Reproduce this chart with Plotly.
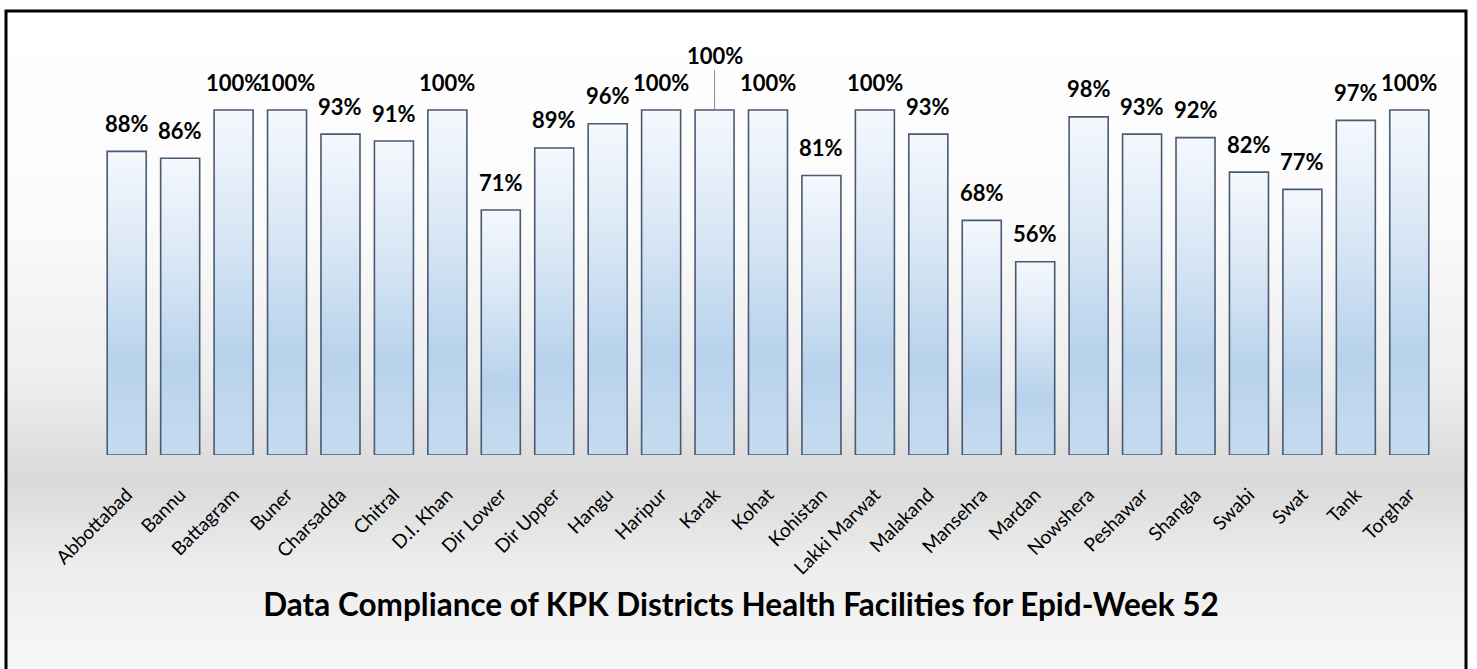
import plotly.graph_objects as go
import urllib.parse

districts = ["Abbottabad", "Bannu", "Battagram", "Buner", "Charsadda", "Chitral",
             "D.I. Khan", "Dir Lower", "Dir Upper", "Hangu", "Haripur", "Karak",
             "Kohat", "Kohistan", "Lakki Marwat", "Malakand", "Mansehra", "Mardan",
             "Nowshera", "Peshawar", "Shangla", "Swabi", "Swat", "Tank", "Torghar"]
compliance = [88, 86, 100, 100, 93, 91, 100, 71, 89, 96, 100, 100, 100, 81, 100,
              93, 68, 56, 98, 93, 92, 82, 77, 97, 100]
title_text = "Data Compliance of KPK Districts Health Facilities for Epid-Week 52"

W, H = 1477, 669
ML, MR, MT, MB = 100, 41, 41, 214
pw, ph = W - ML - MR, H - MT - MB

FONT = "Lato"

fig = go.Figure()
fig.add_trace(go.Bar(
    x=districts, y=compliance,
    marker=dict(color="#cfe0f2", line=dict(color="#4a5a70", width=1.6)),
    width=0.73, hoverinfo="x+y",
))

annotations = []
for d, v in zip(districts, compliance):
    if d == "Karak":
        annotations.append(dict(x=d, y=v, text=f"{v}%", showarrow=True,
                                arrowhead=0, arrowwidth=1, arrowcolor="#8c8c8c",
                                ax=0, ay=-55, standoff=0,
                                font=dict(family=FONT, size=22, color="black", weight="bold")))
    else:
        annotations.append(dict(x=d, y=v, text=f"{v}%", showarrow=False,
                                yanchor="middle", yshift=28,
                                font=dict(family=FONT, size=22, color="black", weight="bold")))

bg_svg = (
    "<svg xmlns='http://www.w3.org/2000/svg' width='100' height='100' preserveAspectRatio='none'>"
    "<defs><linearGradient id='g' x1='0' y1='0' x2='0' y2='1'>"
    "<stop offset='0' stop-color='#ffffff'/>"
    "<stop offset='0.3' stop-color='#fbfbfb'/>"
    "<stop offset='0.55' stop-color='#eeeeee'/>"
    "<stop offset='0.7' stop-color='#d9d9d9'/>"
    "<stop offset='0.82' stop-color='#ececec'/>"
    "<stop offset='1' stop-color='#f8f8f8'/>"
    "</linearGradient></defs>"
    "<rect width='100' height='100' fill='url(#g)'/></svg>"
)
bg_uri = "data:image/svg+xml;charset=utf-8," + urllib.parse.quote(bg_svg)

def px_to_paper_x(px):
    return (px - ML) / pw

def px_to_paper_y(py):
    return (H - MB - py) / ph

fx0, fx1, fy0, fy1 = 6, 1466, 11, 680

fig.update_layout(
    width=W, height=H,
    margin=dict(l=ML, r=MR, t=MT, b=MB),
    paper_bgcolor="white",
    plot_bgcolor="rgba(0,0,0,0)",
    showlegend=False,
    bargap=0.27,
    title=dict(text=f"<b>{title_text}</b>", x=741 / W, xref="container", xanchor="center",
               y=1 - 605 / H, yref="container", yanchor="middle",
               font=dict(family=FONT, size=31.5, color="black")),
    xaxis=dict(type="category", range=[-0.5, len(districts) - 0.5],
               tickangle=-45, showgrid=False, zeroline=False, showline=False,
               ticks="", ticklabelstandoff=24,
               tickfont=dict(family=FONT, size=19, color="black")),
    yaxis=dict(range=[0, 120], visible=False, showgrid=False, zeroline=False),
    annotations=annotations,
    images=[dict(source=bg_uri, xref="paper", yref="paper",
                 x=px_to_paper_x(fx0), y=px_to_paper_y(fy0),
                 sizex=px_to_paper_x(fx1) - px_to_paper_x(fx0),
                 sizey=px_to_paper_y(fy0) - px_to_paper_y(fy1),
                 sizing="stretch", xanchor="left", yanchor="top", layer="below")],
    shapes=[dict(type="rect", xref="paper", yref="paper",
                 x0=px_to_paper_x(fx0), x1=px_to_paper_x(fx1),
                 y0=px_to_paper_y(fy1), y1=px_to_paper_y(fy0),
                 line=dict(color="black", width=3), fillcolor="rgba(0,0,0,0)",
                 layer="above")],
)

post = """
document.body.style.margin = '0';
document.body.style.padding = '0';
var gd = document.getElementById('{plot_id}');
var ns = 'http://www.w3.org/2000/svg';
var svg = gd.querySelector('.main-svg');
var defs = svg.querySelector('defs');
if (!defs) { defs = document.createElementNS(ns, 'defs'); svg.insertBefore(defs, svg.firstChild); }
var lg = document.createElementNS(ns, 'linearGradient');
lg.setAttribute('id', 'bargrad');
lg.setAttribute('x1', '0'); lg.setAttribute('y1', '0');
lg.setAttribute('x2', '0'); lg.setAttribute('y2', '1');
[['0', '#f5f8fd'], ['0.35', '#d9e7f5'], ['0.7', '#b8d2ec'], ['1', '#c6dbf0']].forEach(function(s) {
  var st = document.createElementNS(ns, 'stop');
  st.setAttribute('offset', s[0]); st.setAttribute('stop-color', s[1]);
  lg.appendChild(st);
});
defs.appendChild(lg);
gd.querySelectorAll('.trace.bars .point path').forEach(function(p) {
  p.style.fill = 'url(#bargrad)';
});
"""

fig.write_html("out.html", post_script=post, config={"displayModeBar": False})
